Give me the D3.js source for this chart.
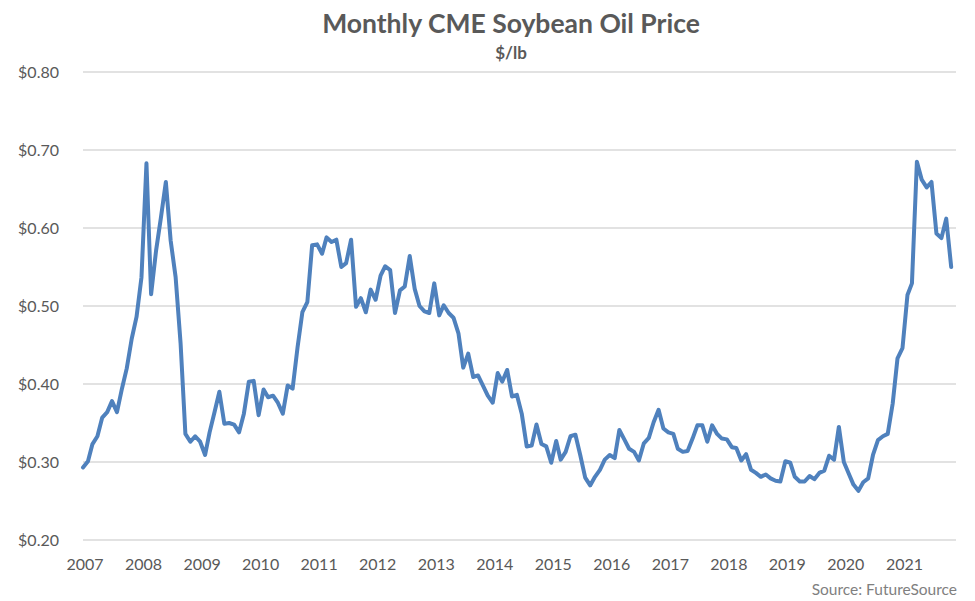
<!DOCTYPE html>
<html>
<head>
<meta charset="utf-8">
<script src="https://cdn.jsdelivr.net/npm/d3@7"></script>
<style>
  body { margin: 0; background: #fff; }
  text { font-family: Lato, "Open Sans", sans-serif; fill: #595959; }
</style>
</head>
<body>
<div id="chart"></div>
<script>
var svgWidth = 975;
var svgHeight = 601;

// monthly settle, Jan 2007 .. Nov 2021
var startYear = 2007;
var prices = [
  0.293, 0.301, 0.323, 0.333, 0.357, 0.364, 0.378, 0.364, 0.394, 0.420, 0.458, 0.486,
  0.537, 0.683, 0.515, 0.571, 0.613, 0.659, 0.584, 0.537, 0.452, 0.336, 0.326, 0.333,
  0.326, 0.309, 0.338, 0.364, 0.390, 0.349, 0.350, 0.348, 0.338, 0.362, 0.403, 0.404,
  0.360, 0.393, 0.383, 0.385, 0.376, 0.362, 0.398, 0.394, 0.447, 0.492, 0.505, 0.578,
  0.579, 0.567, 0.588, 0.582, 0.585, 0.550, 0.555, 0.585, 0.499, 0.510, 0.492, 0.521,
  0.508, 0.539, 0.551, 0.546, 0.491, 0.520, 0.525, 0.564, 0.522, 0.500, 0.493, 0.491,
  0.529, 0.488, 0.501, 0.491, 0.485, 0.465, 0.421, 0.439, 0.409, 0.411, 0.398, 0.385,
  0.376, 0.414, 0.403, 0.418, 0.384, 0.386, 0.362, 0.320, 0.321, 0.348, 0.323, 0.320,
  0.299, 0.327, 0.303, 0.313, 0.333, 0.335, 0.309, 0.280, 0.270, 0.281, 0.290, 0.303,
  0.309, 0.305, 0.341, 0.329, 0.317, 0.313, 0.302, 0.324, 0.331, 0.351, 0.367, 0.343,
  0.338, 0.336, 0.317, 0.313, 0.314, 0.330, 0.347, 0.347, 0.326, 0.347, 0.336, 0.330,
  0.329, 0.319, 0.318, 0.302, 0.310, 0.290, 0.286, 0.281, 0.284, 0.279, 0.276, 0.275,
  0.301, 0.299, 0.281, 0.275, 0.275, 0.282, 0.278, 0.286, 0.289, 0.308, 0.303, 0.345,
  0.300, 0.285, 0.271, 0.263, 0.274, 0.279, 0.309, 0.328, 0.333, 0.336, 0.375, 0.433,
  0.446, 0.514, 0.529, 0.685, 0.662, 0.652, 0.659, 0.593, 0.587, 0.612, 0.550
];
var yTicks = [0.20, 0.30, 0.40, 0.50, 0.60, 0.70, 0.80];
var yearLabels = d3.range(2007, 2022);

var data = prices.map(function(p, i) {
  return { date: new Date(startYear, i, 1), price: p };
});

var svg = d3.select("#chart")
  .append("svg")
  .attr("width", svgWidth)
  .attr("height", svgHeight);

var xScale = d3.scaleTime()
  .domain([new Date(2007, 0, 1), new Date(2021, 11, 1)])
  .range([83, 956]);

var yScale = d3.scaleLinear()
  .domain([0.2, 0.8])
  .range([540, 72]);

// gridlines
svg.append("g")
  .selectAll("line")
  .data(yTicks)
  .enter()
  .append("line")
  .attr("x1", 83)
  .attr("x2", 956)
  .attr("y1", d => yScale(d))
  .attr("y2", d => yScale(d))
  .attr("stroke", "#d9d9d9")
  .attr("stroke-width", 1.5);

// y axis labels
var yAxis = d3.axisLeft(yScale)
  .tickValues(yTicks)
  .tickSize(0)
  .tickPadding(0)
  .tickFormat(d => "$" + d.toFixed(2));

svg.append("g")
  .attr("transform", "translate(59,0)")
  .call(yAxis)
  .call(g => g.select(".domain").remove())
  .selectAll("text")
  .attr("font-size", "16px")
  .attr("font-family", "Lato, sans-serif")
  .style("fill", "#595959");

// x axis labels
var xAxis = d3.axisBottom(xScale)
  .tickValues(yearLabels.map(y => new Date(y, 0, 1)))
  .tickSize(0)
  .tickPadding(0)
  .tickFormat(d3.timeFormat("%Y"));

svg.append("g")
  .attr("transform", "translate(1.5,558.5)")
  .call(xAxis)
  .call(g => g.select(".domain").remove())
  .selectAll("text")
  .attr("font-size", "16px")
  .attr("font-family", "Lato, sans-serif")
  .style("fill", "#595959");

var line = d3.line()
  .x(d => xScale(d.date))
  .y(d => yScale(d.price));

svg.append("path")
  .datum(data)
  .attr("d", line)
  .attr("fill", "none")
  .attr("stroke", "#4f81bd")
  .attr("stroke-width", 4)
  .attr("stroke-linejoin", "round")
  .attr("stroke-linecap", "round");

svg.append("text")
  .attr("x", 511)
  .attr("y", 33)
  .attr("text-anchor", "middle")
  .attr("font-size", "26.5px")
  .attr("font-weight", "bold")
  .text("Monthly CME Soybean Oil Price");

svg.append("text")
  .attr("x", 511)
  .attr("y", 59)
  .attr("text-anchor", "middle")
  .attr("font-size", "17px")
  .attr("font-weight", "bold")
  .text("$/lb");

svg.append("text")
  .attr("x", 957)
  .attr("y", 595)
  .attr("text-anchor", "end")
  .attr("font-size", "15.5px")
  .style("fill", "#7f7f7f")
  .text("Source: FutureSource");
</script>
</body>
</html>
